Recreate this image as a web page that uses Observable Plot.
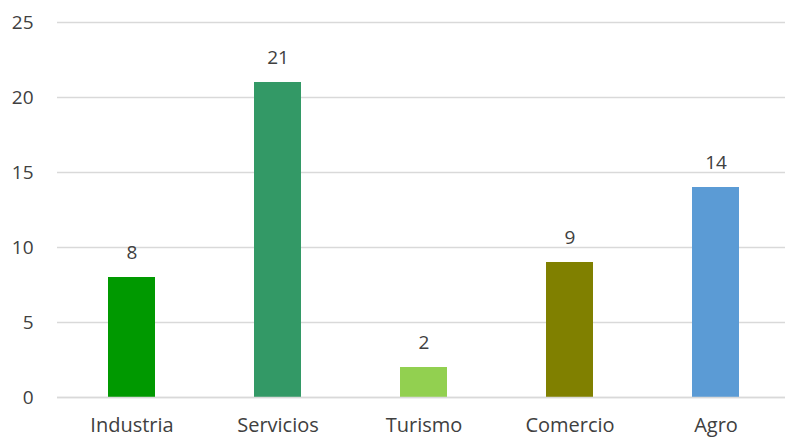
<!DOCTYPE html>
<html>
<head>
<meta charset="utf-8">
<script src="https://cdn.jsdelivr.net/npm/d3@7"></script>
<script src="https://cdn.jsdelivr.net/npm/@observablehq/plot@0.6"></script>
<style>
  html, body { margin: 0; padding: 0; background: #fff; }
  svg { display: block; }
</style>
</head>
<body>
<div id="chart"></div>
<script>
const categories = ["Industria", "Servicios", "Turismo", "Comercio", "Agro"];
const values = [8, 21, 2, 9, 14];
const colors = ["#009900", "#339966", "#92D050", "#808000", "#5B9BD5"];
const yTicks = [0, 5, 10, 15, 20, 25];

const data = categories.map((c, i) => ({category: c, value: values[i], color: colors[i]}));

const chart = Plot.plot({
  width: 785,
  height: 439,
  marginLeft: 57,
  marginRight: 0,
  marginTop: 22,
  marginBottom: 42,
  style: {fontFamily: "'Open Sans', sans-serif", fontSize: "20px", color: "#595959", background: "#fff"},
  x: {domain: categories, range: [57, 789.5], paddingInner: 0.68, paddingOuter: 0.34, label: null},
  y: {domain: [0, 25], label: null},
  marks: [
    Plot.gridY(yTicks, {stroke: "#d9d9d9", strokeOpacity: 1, strokeWidth: 1.5}),
    Plot.barY(data, {x: "category", y: "value", fill: "color"}),
    Plot.ruleY([0], {stroke: "#d9d9d9", strokeWidth: 1.5}),
    Plot.text(data, {x: "category", y: "value", text: d => String(d.value), dy: -25, fill: "#404040", fontSize: 19}),
    Plot.axisY(yTicks, {tickSize: 0, tickPadding: 24, fontSize: 19, fill: "#404040"}),
    Plot.axisX({tickSize: 0, tickPadding: 20, fontSize: 20, fill: "#404040"})
  ]
});
document.getElementById("chart").appendChild(chart);
</script>
</body>
</html>
